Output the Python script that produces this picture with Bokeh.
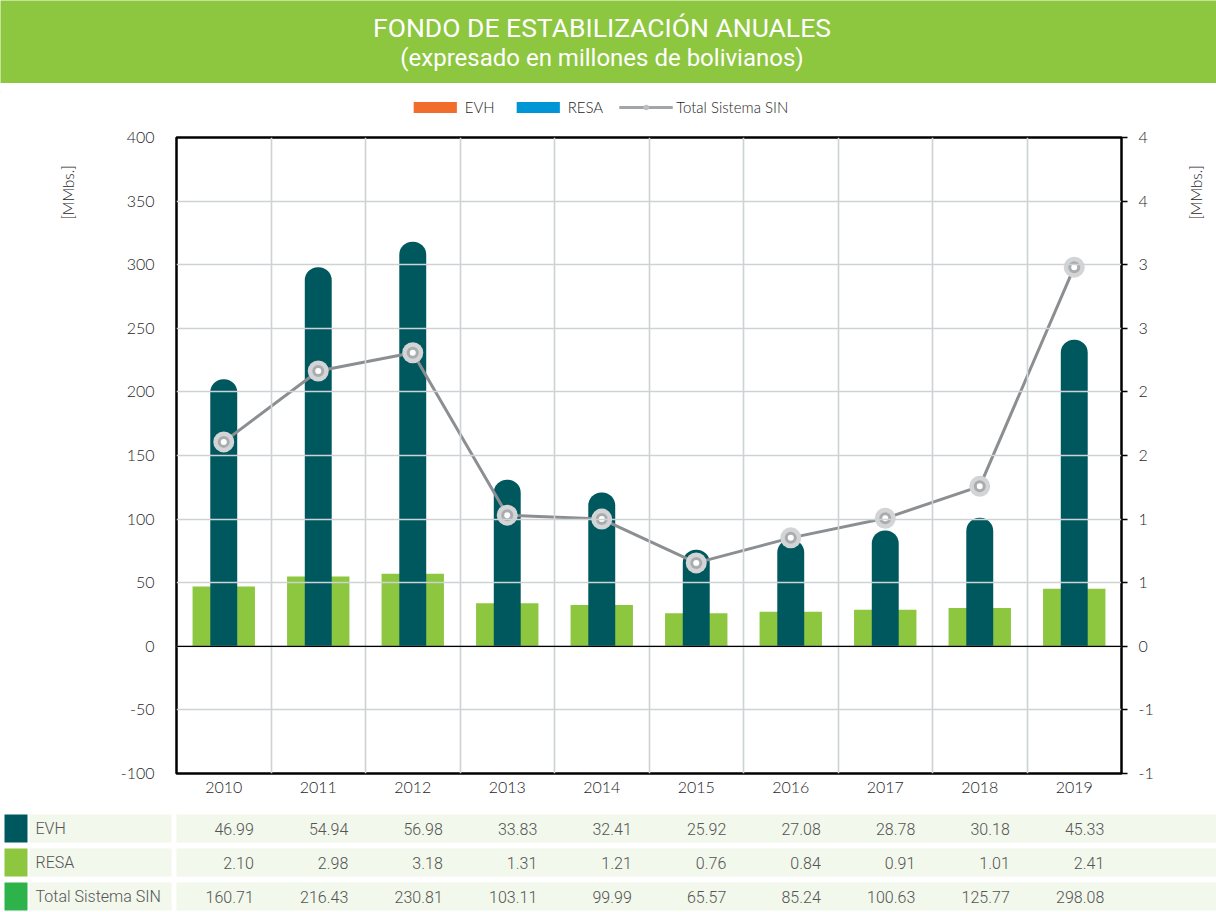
import math
from bokeh.plotting import figure
from bokeh.models import Range1d, LinearAxis, FixedTicker, Span, Label, Legend, LegendItem
from bokeh.layouts import column, row
from bokeh.embed import file_html
from bokeh.resources import INLINE
from bokeh.core.properties import value

# ---------------- data ----------------
years = ["2010", "2011", "2012", "2013", "2014", "2015", "2016", "2017", "2018", "2019"]
evh = [46.99, 54.94, 56.98, 33.83, 32.41, 25.92, 27.08, 28.78, 30.18, 45.33]
resa = [2.10, 2.98, 3.18, 1.31, 1.21, 0.76, 0.84, 0.91, 1.01, 2.41]
total_sin = [160.71, 216.43, 230.81, 103.11, 99.99, 65.57, 85.24, 100.63, 125.77, 298.08]
series_names = ["EVH", "RESA", "Total Sistema SIN"]
left_ticks = [-100, -50, 0, 50, 100, 150, 200, 250, 300, 350, 400]
left_tick_labels = ["-100", "-50", "0", "50", "100", "150", "200", "250", "300", "350", "400"]
right_ticks = [-1, -0.5, 0, 0.5, 1, 1.5, 2, 2.5, 3, 3.5, 4]
right_tick_labels = ["-1", "-1", "0", "1", "1", "2", "2", "3", "3", "4", "4"]
title_text = "FONDO DE ESTABILIZACIÓN ANUALES"
subtitle_text = "(expresado en millones de bolivianos)"
unit_text = "[MMbs.]"

# ---------------- layout constants (page pixels) ----------------
W = 1216
BANNER_H = 83
LEGEND_H = 40
TABLE_H = 100
MID_TOP = BANNER_H + LEGEND_H          # 123
MID_H = 812 - MID_TOP                  # 689
FRAME_L, FRAME_R = 176, 1121
FRAME_T, FRAME_B = 137, 773
LEFT_W = 110
RIGHT_X = 1170
n = len(years)
ppu = (FRAME_R - FRAME_L) / n
xs = [i + 0.5 for i in range(n)]

GREEN = "#8DC63F"
TEAL = "#00585F"
TXT = "#1E1E1E"
AX_FONT = "Lato Light, Lato"


def blank(width, height, **kw):
    f = figure(width=width, height=height, x_range=Range1d(0, width), y_range=Range1d(height, 0),
               x_axis_type=None, y_axis_type=None, toolbar_location=None, output_backend="svg",
               min_border=0, outline_line_color=None, frame_align=False, **kw)
    return f


# ---------------- banner ----------------
b = blank(W, BANNER_H, background_fill_color=GREEN, border_fill_color=GREEN)
b.add_layout(Label(x=601.5, y=27, text=title_text, text_align="center", text_baseline="alphabetic",
                   text_font="Roboto", text_font_size="26.5px", text_color="white"))
b.add_layout(Label(x=601.5, y=57, text=subtitle_text, text_align="center", text_baseline="alphabetic",
                   text_font="Roboto", text_font_size="24px", text_color="white"))

# ---------------- legend strip ----------------
lg = blank(W, LEGEND_H, min_border_top=8, min_border_right=20)
OFF = [-5000.0]
r_evh = lg.vbar(x=OFF, top=OFF, bottom=[-4000.0], width=1, fill_color="#F26D2B", line_color=None)
r_resa = lg.vbar(x=OFF, top=OFF, bottom=[-4000.0], width=1, fill_color="#0096D6", line_color=None)
l_ln = lg.line(x=[-5000.0, -4990.0], y=OFF * 2, line_color="#A3A6A9", line_width=3)
l_m1 = lg.scatter(x=OFF, y=OFF, size=10, fill_color="#BDBFC1", line_color=None)
legend = Legend(items=[LegendItem(label=series_names[0], renderers=[r_evh]),
                       LegendItem(label=series_names[1], renderers=[r_resa]),
                       LegendItem(label=series_names[2], renderers=[l_ln, l_m1])],
                orientation="horizontal", location="center",
                glyph_width=54, glyph_height=14, label_standoff=3, spacing=16, padding=4,
                border_line_color=None, background_fill_alpha=0,
                label_text_font=AX_FONT, label_text_font_size="15px", label_text_color=TXT)
lg.add_layout(legend)

# ---------------- main chart ----------------
MAIN_W = RIGHT_X - LEFT_W
p = figure(width=MAIN_W, height=MID_H, x_range=Range1d(0, n), y_range=Range1d(-100, 400),
           toolbar_location=None, output_backend="svg", frame_align=False,
           min_border_left=FRAME_L - LEFT_W, min_border_right=RIGHT_X - FRAME_R,
           min_border_top=FRAME_T - MID_TOP, min_border_bottom=MID_TOP + MID_H - FRAME_B,
           outline_line_color="black", outline_line_width=2.5)
p.extra_y_ranges = {"right": Range1d(-1, 4)}

p.xaxis.ticker = FixedTicker(ticks=xs)
p.xaxis.major_label_overrides = {x: y for x, y in zip(xs, years)}
p.xaxis.major_tick_line_color = None
p.xaxis.minor_tick_line_color = None
p.xaxis.axis_line_color = None
p.xaxis.major_label_standoff = 2

p.yaxis.ticker = FixedTicker(ticks=left_ticks)
p.yaxis.major_label_overrides = {float(k): v for k, v in zip(left_ticks, left_tick_labels)}
p.yaxis.major_tick_line_color = None
p.yaxis.minor_tick_line_color = None
p.yaxis.axis_line_color = None
p.yaxis.major_label_standoff = 16

ra = LinearAxis(y_range_name="right", ticker=FixedTicker(ticks=right_ticks),
                major_label_overrides={float(k): v for k, v in zip(right_ticks, right_tick_labels)},
                axis_line_color=None, major_tick_out=6, major_tick_in=0,
                major_tick_line_color="black", major_tick_line_width=1.5,
                minor_tick_line_color=None, major_label_standoff=11)
p.add_layout(ra, "right")

for ax in [p.xaxis[0], p.yaxis[0], ra]:
    ax.major_label_text_font = AX_FONT
    ax.major_label_text_font_size = "16px"
    ax.major_label_text_color = TXT

p.xgrid.ticker = FixedTicker(ticks=list(range(1, n)))
p.ygrid.ticker = FixedTicker(ticks=left_ticks)
for g in [p.xgrid[0], p.ygrid[0]]:
    g.grid_line_color = "#CDD2D4"
    g.grid_line_width = 1.6
    g.level = "glyph"

p.vbar(x=xs, top=evh, bottom=0, width=0.66, fill_color=GREEN, line_color=None, level="underlay")
p.vbar(x=xs, top=resa, bottom=0, width=0.285, y_range_name="right", fill_color=TEAL,
       line_color=None, border_radius=(13, 13, 0, 0), level="underlay")

p.add_layout(Span(location=0, dimension="width", line_color="black", line_width=1.3))

p.line(xs, total_sin, line_color="#8C8F92", line_width=3)
p.scatter(xs, total_sin, size=21, fill_color="#D2D4D6", line_color=None)
p.scatter(xs, total_sin, size=12, fill_color="#AAADAF", line_color=None)
p.scatter(xs, total_sin, size=6, fill_color="white", line_color=None)

# ---------------- unit labels at the sides ----------------
lf = blank(LEFT_W, MID_H)
lf.add_layout(Label(x=67, y=192 - MID_TOP, text=unit_text, angle=math.pi / 2,
                    text_align="center", text_baseline="middle", text_font=AX_FONT,
                    text_font_size="15px", text_color=TXT))
rf = blank(W - RIGHT_X, MID_H)
rf.add_layout(Label(x=1195 - RIGHT_X, y=192 - MID_TOP, text=unit_text, angle=math.pi / 2,
                    text_align="center", text_baseline="middle", text_font=AX_FONT,
                    text_font_size="15px", text_color=TXT))

# ---------------- data table ----------------
def u(px):
    return (px - FRAME_L) / ppu

t = figure(width=W, height=TABLE_H, x_range=Range1d(u(0), u(W)), y_range=Range1d(TABLE_H, 0),
           x_axis_type=None, y_axis_type=None, toolbar_location=None, output_backend="svg",
           min_border=0, outline_line_color=None, frame_align=False)
row_tops = [2, 36, 70]
row_h = 28
row_colors = [TEAL, GREEN, "#2DB34A"]
row_values = [evh, resa, total_sin]
BAND = "#F2F8EC"
bottoms = [r + row_h for r in row_tops]
t.quad(left=[u(4)] * 3, right=[u(27)] * 3, top=row_tops, bottom=bottoms,
       fill_color=row_colors, line_color=None)
t.quad(left=[u(29)] * 3, right=[u(171)] * 3, top=row_tops, bottom=bottoms,
       fill_color=BAND, line_color=None)
t.quad(left=[u(176)] * 3, right=[u(W)] * 3, top=row_tops, bottom=bottoms,
       fill_color=BAND, line_color=None)
centers = [r + row_h / 2 for r in row_tops]
TFONT = value("Roboto Light, Roboto")
t.text(x=[u(35)] * 3, y=centers, text=series_names, text_align="left", text_baseline="middle",
       text_font=TFONT, text_font_size="16px", text_color="#555555")
for vals, cy in zip(row_values, centers):
    t.text(x=xs, y=[cy] * n, text=["%.2f" % v for v in vals], x_offset=30,
           text_align="right", text_baseline="middle",
           text_font=TFONT, text_font_size="16px", text_color="#555555")

layout = column(b, lg, row(lf, p, rf, spacing=0), t, spacing=0)
open("out.html", "w").write(file_html(layout, INLINE))
